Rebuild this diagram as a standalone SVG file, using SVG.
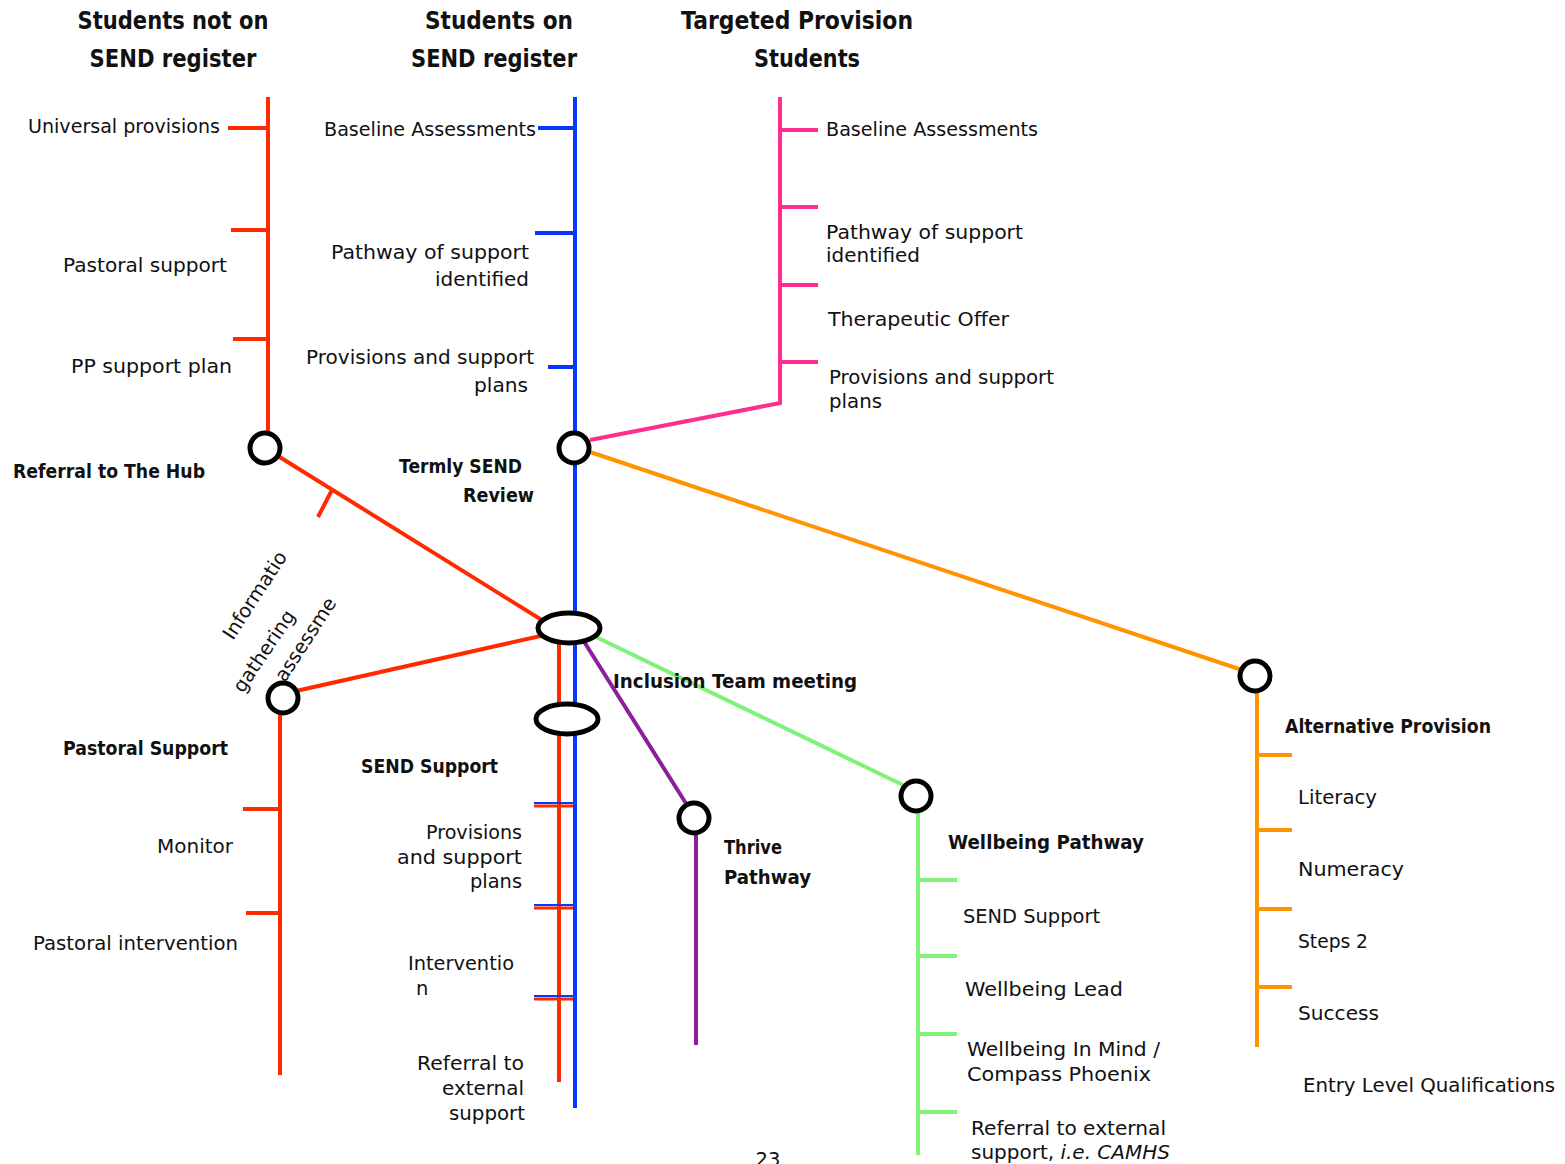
<svg xmlns="http://www.w3.org/2000/svg" width="1565" height="1164" viewBox="0 0 1565 1164">
<style>
text{font-family:"DejaVu Sans","Liberation Sans",sans-serif;fill:#111;lengthAdjust:spacingAndGlyphs}
.h{font-size:25px;font-weight:bold;text-anchor:middle}
.t{font-size:19.5px}
.b{font-size:19px;font-weight:bold}
.e{text-anchor:end}
.red{stroke:#ff2a00;stroke-width:4;fill:none}
.blu{stroke:#0a36ff;stroke-width:4;fill:none}
.pnk{stroke:#ff2f92;stroke-width:4;fill:none}
.org{stroke:#ff9400;stroke-width:4;fill:none}
.pur{stroke:#8e1f9c;stroke-width:4;fill:none}
.grn{stroke:#7ff27a;stroke-width:4;fill:none}
.stn{fill:#fff;stroke:#000;stroke-width:5}
</style>
<rect width="1565" height="1164" fill="#fff"/>
<g id="headers">
<text class="h" x="173" y="29" textLength="191" lengthAdjust="spacingAndGlyphs">Students not on</text>
<text class="h" x="173" y="67" textLength="167" lengthAdjust="spacingAndGlyphs">SEND register</text>
<text class="h" x="499" y="29" textLength="148" lengthAdjust="spacingAndGlyphs">Students on</text>
<text class="h" x="494" y="67" textLength="166" lengthAdjust="spacingAndGlyphs">SEND register</text>
<text class="h" x="797" y="29" textLength="232" lengthAdjust="spacingAndGlyphs">Targeted Provision</text>
<text class="h" x="807" y="67" textLength="106" lengthAdjust="spacingAndGlyphs">Students</text>
</g>
<g id="connectors">
<path class="red" d="M268 97V434M228 128H268M231 230H268M233 339H268"/>
<path class="red" d="M278 456L545 622M333 488L318 517"/>
<path class="red" d="M545 635L296 691"/>
<path class="red" d="M280 713V1075M243 809H280M246 913H280"/>
<path class="blu" d="M575 97V1108M538 128H575M535 233H575M548 367H575"/>
<path class="red" d="M559 642V1082"/>
<path class="red" d="M534 806H573M534 908H573M534 999H573" style="stroke-width:3"/>
<path class="blu" d="M534 803H573M534 905H573M534 996H573" style="stroke-width:2"/>
<path class="pnk" d="M780 97V403L590 440M780 130H818M780 207H818M780 285H818M780 362H818"/>
<path class="org" d="M590 452L1242 670M1257 692V1047M1257 755H1292M1257 830H1292M1257 909H1292M1257 987H1292"/>
<path class="pur" d="M583 640L687 805M696 834V1045"/>
<path class="grn" d="M596 637L903 785M918 812V1155M918 880H957M918 956H957M918 1034H957M918 1112H957"/>
</g>
<g id="node-hub"><circle class="stn" cx="265" cy="448" r="15"/></g>
<g id="node-termly"><circle class="stn" cx="574" cy="448" r="15"/></g>
<g id="node-inclusion"><ellipse class="stn" cx="569" cy="628" rx="31" ry="15"/></g>
<g id="node-send-support"><ellipse class="stn" cx="567" cy="719" rx="31" ry="15"/></g>
<g id="node-pastoral"><circle class="stn" cx="283" cy="698" r="15"/></g>
<g id="node-thrive"><circle class="stn" cx="694" cy="818" r="15"/></g>
<g id="node-wellbeing"><circle class="stn" cx="916" cy="796" r="15"/></g>
<g id="node-ap"><circle class="stn" cx="1255" cy="676" r="15"/></g>
<g id="labels">
<text class="t" x="28" y="133" textLength="192" lengthAdjust="spacingAndGlyphs">Universal provisions</text>
<text class="t" x="63" y="272" textLength="164" lengthAdjust="spacingAndGlyphs">Pastoral support</text>
<text class="t" x="71" y="373" textLength="161" lengthAdjust="spacingAndGlyphs">PP support plan</text>
<text class="b" x="13" y="478" textLength="192" lengthAdjust="spacingAndGlyphs">Referral to The Hub</text>
<text class="t e" x="536" y="136" textLength="212" lengthAdjust="spacingAndGlyphs">Baseline Assessments</text>
<text class="t e" x="529" y="259" textLength="198" lengthAdjust="spacingAndGlyphs">Pathway of support</text>
<text class="t e" x="529" y="286" textLength="94" lengthAdjust="spacingAndGlyphs">identified</text>
<text class="t e" x="534" y="364" textLength="228" lengthAdjust="spacingAndGlyphs">Provisions and support</text>
<text class="t e" x="528" y="392" textLength="54" lengthAdjust="spacingAndGlyphs">plans</text>
<text class="b e" x="522" y="473" textLength="123" lengthAdjust="spacingAndGlyphs">Termly SEND</text>
<text class="b e" x="534" y="502" textLength="71" lengthAdjust="spacingAndGlyphs">Review</text>
<text class="t" x="826" y="136" textLength="212" lengthAdjust="spacingAndGlyphs">Baseline Assessments</text>
<text class="t" x="826" y="239" textLength="197" lengthAdjust="spacingAndGlyphs">Pathway of support</text>
<text class="t" x="826" y="262" textLength="94" lengthAdjust="spacingAndGlyphs">identified</text>
<text class="t" x="828" y="326" textLength="181" lengthAdjust="spacingAndGlyphs">Therapeutic Offer</text>
<text class="t" x="829" y="384" textLength="225" lengthAdjust="spacingAndGlyphs">Provisions and support</text>
<text class="t" x="829" y="408" textLength="53" lengthAdjust="spacingAndGlyphs">plans</text>
<text class="t" transform="translate(233,641) rotate(-57)">Informatio</text>
<text class="t" transform="translate(243,694) rotate(-56)">gathering</text>
<text class="t" transform="translate(285,683) rotate(-57)">assessme</text>
<text class="b" x="613" y="688" textLength="244" lengthAdjust="spacingAndGlyphs">Inclusion Team meeting</text>
<text class="b" x="63" y="755" textLength="165" lengthAdjust="spacingAndGlyphs">Pastoral Support</text>
<text class="b" x="361" y="773" textLength="137" lengthAdjust="spacingAndGlyphs">SEND Support</text>
<text class="t" x="157" y="853" textLength="76" lengthAdjust="spacingAndGlyphs">Monitor</text>
<text class="t" x="33" y="950" textLength="205" lengthAdjust="spacingAndGlyphs">Pastoral intervention</text>
<text class="t e" x="522" y="839" textLength="96" lengthAdjust="spacingAndGlyphs">Provisions</text>
<text class="t e" x="522" y="864" textLength="125" lengthAdjust="spacingAndGlyphs">and support</text>
<text class="t e" x="522" y="888" textLength="52" lengthAdjust="spacingAndGlyphs">plans</text>
<text class="t" x="408" y="970" textLength="106" lengthAdjust="spacingAndGlyphs">Interventio</text>
<text class="t" x="416" y="995">n</text>
<text class="t e" x="524" y="1070" textLength="107" lengthAdjust="spacingAndGlyphs">Referral to</text>
<text class="t e" x="524" y="1095" textLength="82" lengthAdjust="spacingAndGlyphs">external</text>
<text class="t e" x="525" y="1120" textLength="76" lengthAdjust="spacingAndGlyphs">support</text>
<text class="b" x="724" y="854" textLength="58" lengthAdjust="spacingAndGlyphs">Thrive</text>
<text class="b" x="724" y="884" textLength="87" lengthAdjust="spacingAndGlyphs">Pathway</text>
<text class="b" x="948" y="849" textLength="196" lengthAdjust="spacingAndGlyphs">Wellbeing Pathway</text>
<text class="t" x="963" y="923" textLength="137" lengthAdjust="spacingAndGlyphs">SEND Support</text>
<text class="t" x="965" y="996" textLength="158" lengthAdjust="spacingAndGlyphs">Wellbeing Lead</text>
<text class="t" x="967" y="1056" textLength="193" lengthAdjust="spacingAndGlyphs">Wellbeing In Mind /</text>
<text class="t" x="967" y="1081" textLength="184" lengthAdjust="spacingAndGlyphs">Compass Phoenix</text>
<text class="t" x="971" y="1135" textLength="195" lengthAdjust="spacingAndGlyphs">Referral to external</text>
<text class="t" x="971" y="1159" textLength="199" lengthAdjust="spacingAndGlyphs">support, <tspan font-style="italic">i.e. CAMHS</tspan></text>
<text class="b" x="1285" y="733" textLength="206" lengthAdjust="spacingAndGlyphs">Alternative Provision</text>
<text class="t" x="1298" y="804" textLength="79" lengthAdjust="spacingAndGlyphs">Literacy</text>
<text class="t" x="1298" y="876" textLength="106" lengthAdjust="spacingAndGlyphs">Numeracy</text>
<text class="t" x="1298" y="948" textLength="70" lengthAdjust="spacingAndGlyphs">Steps 2</text>
<text class="t" x="1298" y="1020" textLength="81" lengthAdjust="spacingAndGlyphs">Success</text>
<text class="t" x="1303" y="1092" textLength="252" lengthAdjust="spacingAndGlyphs">Entry Level Qualifications</text>
<text class="t" x="768" y="1166" text-anchor="middle">23</text>
</g>
</svg>
